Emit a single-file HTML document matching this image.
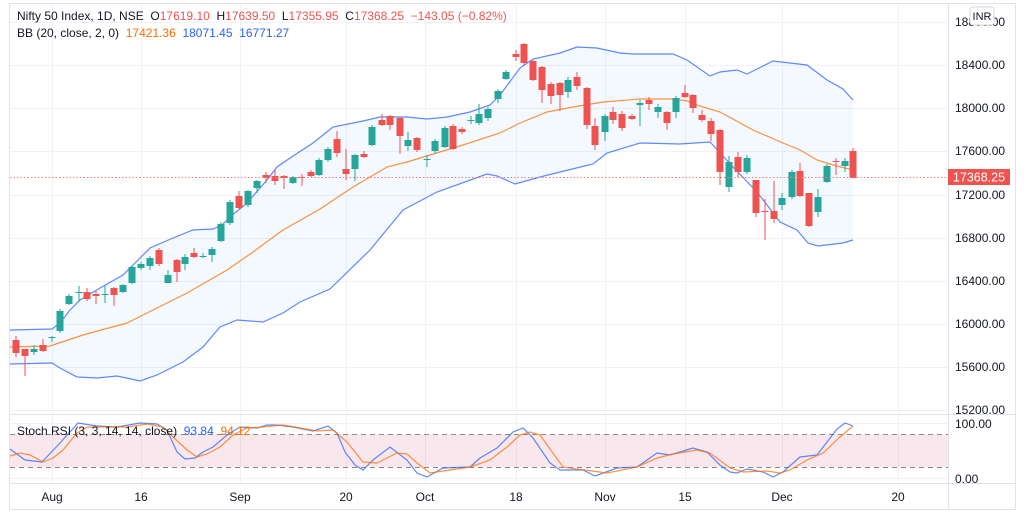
<!DOCTYPE html>
<html><head><meta charset="utf-8"><style>
html,body{margin:0;padding:0;background:#fff;width:1024px;height:515px;overflow:hidden}
svg{display:block;font-family:"Liberation Sans",sans-serif}
</style></head><body>
<svg id="s" width="1024" height="515" xmlns="http://www.w3.org/2000/svg">
<rect x="0" y="0" width="1024" height="515" fill="#fff"/>
<g id="grid" stroke="#f0f2f5" stroke-width="1"></g>
<path id="bandfill" fill="#2196f3" fill-opacity="0.055" stroke="none"/>
<rect x="10" y="434" width="938" height="33" fill="#c2185b" fill-opacity="0.1"/>
<line x1="10" y1="434.5" x2="948" y2="434.5" stroke="#888" stroke-dasharray="5,4"/>
<line x1="10" y1="467.5" x2="948" y2="467.5" stroke="#888" stroke-dasharray="5,4"/>
<polyline id="up" fill="none" stroke="#2962ff" stroke-opacity="0.75" stroke-width="1.2"/>
<polyline id="lo" fill="none" stroke="#2962ff" stroke-opacity="0.75" stroke-width="1.2"/>
<polyline id="mid" fill="none" stroke="#ff6d00" stroke-opacity="0.75" stroke-width="1.2"/>
<g id="candles"></g>
<line x1="10" y1="177.5" x2="948" y2="177.5" stroke="#f77c7a" stroke-width="1" stroke-dasharray="1.5,2"/>
<polyline fill="none" stroke="#2962ff" stroke-opacity="0.75" stroke-width="1.2" points="10,449 25,460 42,462 60,443 78,423 97,426 117,427 140,423 157,424 167,430 177,452 185,459 195,458 203,452 213,447 227,435 240,427 257,428 267,425 277,425 293,427 313,431 328,426 337,433 345,452 355,465 363,470 373,460 390,447 407,460 417,473 427,477 443,468 470,467 480,458 497,448 513,432 523,428 533,438 550,463 560,470 583,470 595,476 617,468 637,467 657,453 670,455 693,448 707,452 720,465 730,472 737,473 747,469 763,472 773,477 783,472 800,457 817,455 837,429 845,423 853,426"/>
<polyline fill="none" stroke="#ff6d00" stroke-opacity="0.75" stroke-width="1.2" points="10,456 20,453 30,455 43,462 53,458 63,450 77,433 87,427 107,427 127,427 147,424 163,427 173,437 187,450 197,457 207,454 220,447 233,435 247,428 263,427 283,425 300,428 317,431 333,430 347,442 363,462 377,463 387,458 397,453 407,454 417,463 430,473 450,470 470,467 490,460 507,447 520,435 530,432 540,435 563,467 577,469 607,473 637,467 657,458 673,454 697,450 710,453 730,468 743,472 767,471 780,473 790,470 807,460 823,453 840,437 853,426"/>
<g stroke="#e0e3eb" fill="none">
<rect x="9.5" y="3.5" width="1006" height="506"/>
<line x1="948.5" y1="3" x2="948.5" y2="510"/>
<line x1="10" y1="414.5" x2="1015" y2="414.5"/>
<line x1="10" y1="483.5" x2="1015" y2="483.5"/>
</g>
<g id="ylab" font-size="12" fill="#131722"></g>
<rect x="948" y="169" width="62" height="16" fill="#ef5350"/>
<text x="979" y="181.5" font-size="12.5" fill="#fff" text-anchor="middle">17368.25</text>
<rect x="970" y="7" width="24" height="18" rx="3" fill="#fff" stroke="#d1d4dc"/>
<text x="982" y="20" font-size="11" fill="#131722" text-anchor="middle">INR</text>
<g font-size="12" fill="#131722" text-anchor="middle">
<text x="52" y="501">Aug</text><text x="141" y="501">16</text><text x="240" y="501">Sep</text><text x="346" y="501">20</text><text x="425" y="501">Oct</text><text x="516" y="501">18</text><text x="605" y="501">Nov</text><text x="685" y="501">15</text><text x="782" y="501">Dec</text><text x="898" y="501">20</text>
</g>
<g font-size="12">
<text x="17" y="20" xml:space="preserve"><tspan fill="#131722">Nifty 50 Index, 1D, NSE  O</tspan><tspan fill="#ef5350">17619.10</tspan><tspan fill="#131722">  H</tspan><tspan fill="#ef5350">17639.50</tspan><tspan fill="#131722">  L</tspan><tspan fill="#ef5350">17355.95</tspan><tspan fill="#131722">  C</tspan><tspan fill="#ef5350">17368.25  −143.05 (−0.82%)</tspan></text>
<text x="17" y="37" xml:space="preserve"><tspan fill="#131722">BB (20, close, 2, 0)  </tspan><tspan fill="#ff6d00">17421.36  </tspan><tspan fill="#2962ff">18071.45  16771.27</tspan></text>
<text x="17" y="435" xml:space="preserve"><tspan fill="#131722">Stoch RSI (3, 3, 14, 14, close)  </tspan><tspan fill="#2962ff">93.84  </tspan><tspan fill="#ff6d00">94.12</tspan></text>
</g>
</svg>
<script>
var NS="http://www.w3.org/2000/svg";
function el(p,t,a){var e=document.createElementNS(NS,t);for(var k in a)e.setAttribute(k,a[k]);p.appendChild(e);return e;}
var grid=document.getElementById('grid');
[52,141,240,346,425,516,605,685,782,898].forEach(function(x){el(grid,'line',{x1:x+.5,y1:3,x2:x+.5,y2:483});});
var yl=document.getElementById('ylab');
var levels=[[18800,22],[18400,65],[18000,108],[17600,151],[17200,195],[16800,238],[16400,281],[16000,324],[15600,367],[15200,410]];
levels.forEach(function(l){el(grid,'line',{x1:10,y1:l[1]+.5,x2:948,y2:l[1]+.5});var t=el(yl,'text',{x:955,y:l[1]+4});t.textContent=l[0]+'.00';});
el(grid,'line',{x1:10,y1:423.5,x2:948,y2:423.5});el(grid,'line',{x1:10,y1:478.5,x2:948,y2:478.5});
var t1=el(yl,'text',{x:955,y:428});t1.textContent='100.00';var t2=el(yl,'text',{x:955,y:483});t2.textContent='0.00';
var up=[[10,330],[52,329],[60,323],[70,310],[80,300],[100,288],[123,275],[133,265],[150,248],[173,238],[193,230],[213,229],[222,225],[230,217],[247,203],[267,180],[277,167],[293,156],[313,143],[333,127],[363,121],[380,117],[407,117],[427,119],[447,117],[470,112],[490,105],[500,95],[520,68],[533,59],[560,53],[577,47],[597,48],[620,53],[633,54],[673,54],[687,60],[710,76],[720,72],[737,70],[747,74],[773,61],[807,65],[827,80],[843,89],[853,100]];
var lo=[[10,364],[52,363],[60,368],[77,377],[97,378],[117,376],[140,381],[157,375],[183,362],[203,347],[220,327],[237,320],[263,322],[283,313],[300,302],[330,289],[370,250],[403,210],[437,192],[487,174],[497,176],[515,184],[540,177],[560,172],[593,164],[607,153],[640,143],[680,144],[710,142],[733,167],[757,192],[780,222],[797,230],[808,243],[818,246],[843,243],[853,240]];
var mid=[[10,347],[50,346],[83,335],[127,323],[157,308],[187,293],[227,270],[253,252],[283,230],[320,209],[353,187],[387,167],[407,162],[430,155],[463,145],[500,133],[520,123],[547,112],[573,107],[603,102],[640,99],[673,99],[687,101],[700,106],[720,112],[753,130],[783,143],[800,150],[817,160],[833,165],[853,170]];
function pts(a){return a.map(function(p){return p.join(',');}).join(' ');}
document.getElementById('up').setAttribute('points',pts(up));
document.getElementById('lo').setAttribute('points',pts(lo));
document.getElementById('mid').setAttribute('points',pts(mid));
document.getElementById('bandfill').setAttribute('d','M'+pts(up)+' L'+pts(lo.slice().reverse())+' Z');
var C=[[16,340,353,336,357,0],[25,349,356,349,376,0],[34,349,352,345,355,1],[43,345,351,339,352,0],[52,337,338,336,342,1],[60,311,331,309,333,1],[69,296,304,294,305,1],[79,292,293,286,302,1],[87,292,299,288,301,0],[96,294,296,291,304,0],[105,294,295,285,303,1],[114,288,295,287,306,0],[123,285,292,284,293,1],[132,267,283,266,284,1],[141,264,268,262,270,1],[150,258,266,256,270,1],[159,250,264,248,266,0],[168,275,283,270,283,1],[177,260,272,259,282,0],[185,257,264,254,270,1],[194,253,257,248,258,0],[203,256,257,253,258,1],[212,249,255,247,262,1],[221,224,241,222,242,1],[230,202,223,200,225,1],[239,196,208,191,209,0],[248,191,205,190,207,1],[257,181,188,180,193,1],[266,175,178,172,183,0],[275,176,181,170,185,0],[284,176,178,175,189,0],[293,177,183,176,184,1],[302,177,178,174,186,0],[311,172,176,170,177,0],[319,160,175,158,176,1],[328,149,160,147,162,1],[337,139,153,131,157,0],[346,169,174,149,180,0],[355,155,169,154,181,1],[364,154,157,151,158,0],[372,127,145,125,146,1],[382,120,125,114,126,0],[390,116,125,115,130,0],[400,118,136,117,154,0],[408,140,146,132,151,1],[417,138,150,137,152,0],[427,159,160,155,167,1],[435,141,151,139,154,1],[445,128,147,126,148,1],[453,126,149,124,150,0],[462,129,132,127,134,0],[471,120,121,116,124,1],[479,114,123,104,125,1],[488,109,118,107,121,1],[498,91,99,89,103,1],[506,72,79,70,80,1],[516,54,57,50,61,0],[524,44,63,43,65,0],[533,61,80,60,81,0],[542,67,90,66,103,0],[551,84,96,82,104,0],[560,83,95,82,111,0],[568,80,92,77,98,1],[577,77,86,72,90,0],[587,88,125,87,129,0],[595,126,145,118,150,0],[605,116,132,114,141,1],[613,112,120,107,124,0],[622,114,128,111,131,0],[632,116,119,114,120,0],[640,103,105,100,126,1],[649,100,104,97,110,0],[658,107,112,104,118,1],[667,112,123,111,130,0],[676,98,112,96,118,1],[685,93,97,85,98,0],[693,95,108,94,113,0],[702,115,120,110,122,0],[711,121,134,118,141,0],[720,130,172,129,185,0],[729,162,187,156,192,1],[738,157,172,152,177,0],[747,158,172,155,174,1],[756,180,213,180,217,0],[765,211,212,199,240,0],[774,211,219,181,223,0],[782,198,205,193,210,1],[792,172,197,170,199,1],[800,171,196,163,197,0],[809,193,226,193,227,0],[818,197,212,189,217,1],[827,166,182,164,183,1],[836,161,162,158,175,0],[845,161,166,158,172,1],[853,151,178,148,178,0]];
var g=document.getElementById('candles');
C.forEach(function(c){var col=c[5]?'#26a69a':'#ef5350';var x=c[0];
el(g,'line',{x1:x,y1:c[3],x2:x,y2:c[4],stroke:col,'stroke-width':1});
el(g,'rect',{x:x-3.5,y:c[1],width:7,height:Math.max(1,c[2]-c[1]),fill:col});});
</script>
</body></html>
